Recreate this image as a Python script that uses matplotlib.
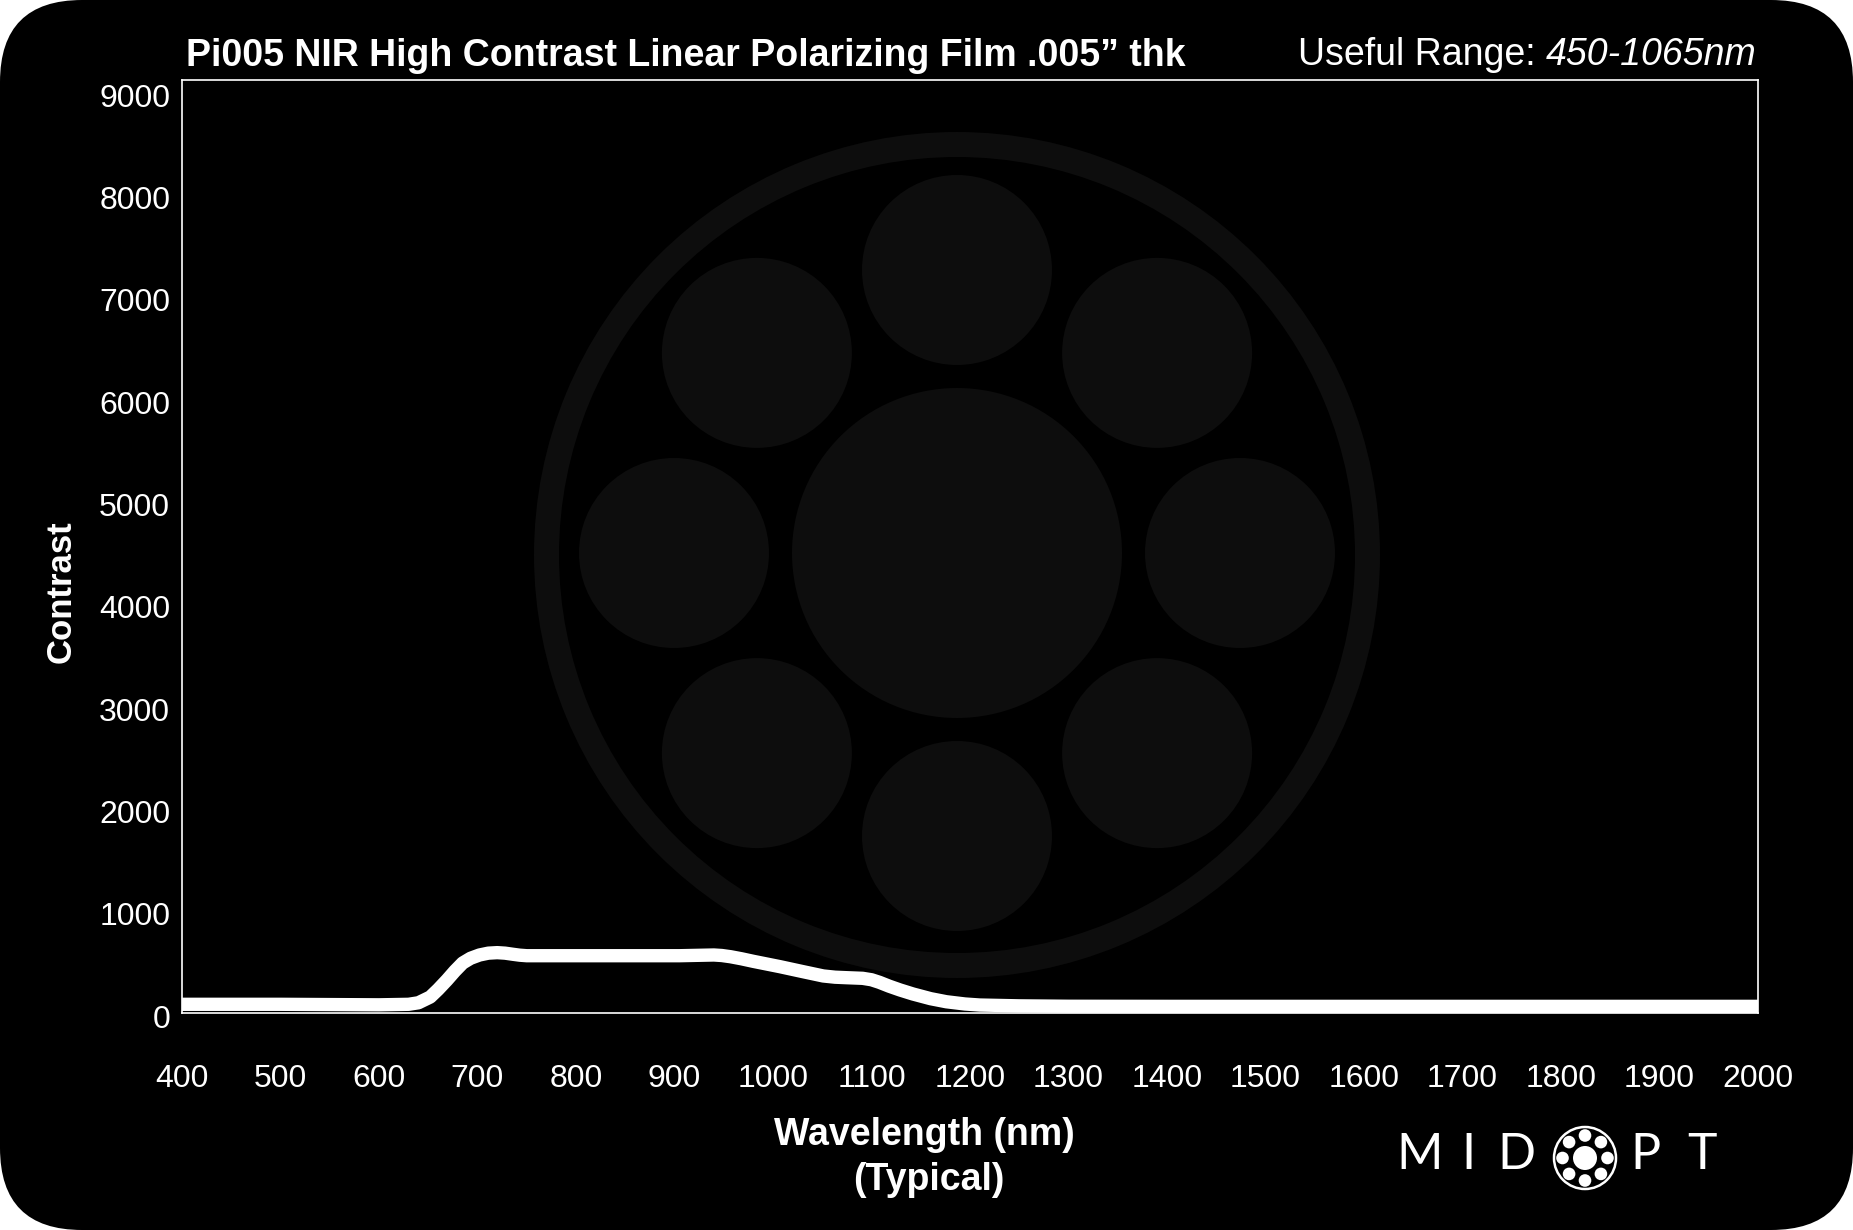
import matplotlib
matplotlib.use("Agg")
import matplotlib.pyplot as plt
import matplotlib.transforms as mtransforms
from matplotlib.patches import FancyBboxPatch, Circle, Wedge
import numpy as np

# ---------------- data ----------------
wavelength = [400, 500, 600, 630, 640, 652, 660, 669, 677, 685, 693, 702, 711, 720,
              728, 736, 743, 750, 800, 850, 905, 940, 948, 957, 968, 980, 1007,
              1030, 1051, 1063, 1075, 1091, 1100, 1108, 1118, 1129, 1142, 1160,
              1176, 1195, 1210, 1250, 1300, 1400, 1600, 1800, 2000]
contrast = [85, 85, 80, 85, 100, 156, 230, 322, 410, 489, 535, 567, 585, 590,
            585, 574, 565, 560, 560, 560, 560, 567, 562, 550, 530, 505, 453,
            405, 362, 350, 345, 339, 325, 300, 262, 225, 186, 140,
            110, 88, 78, 70, 66, 65, 65, 65, 65]
x_ticks = list(range(400, 2001, 100))
y_ticks = list(range(0, 9001, 1000))

title = "Pi005 NIR High Contrast Linear Polarizing Film .005\u201d thk"
range_label = "Useful Range: "
range_value = "450-1065nm"
x_label = "Wavelength (nm)"
x_sub = "(Typical)"
y_label = "Contrast"
logo_letters = ["M", "I", "D", "P", "T"]

W, H = 1853, 1230
FONT = "Liberation Sans"
plt.rcParams['font.family'] = [FONT, 'DejaVu Sans']

fig = plt.figure(figsize=(W / 100, H / 100), dpi=100, facecolor="white")

# background axes in pixel coordinates
bg = fig.add_axes([0, 0, 1, 1], zorder=0)
bg.set_xlim(0, W)
bg.set_ylim(H, 0)
bg.axis("off")
bg.add_patch(FancyBboxPatch((0, 0), W, H, boxstyle="round,pad=0,rounding_size=82",
                            facecolor="black", edgecolor="none"))

# watermark
wm = "#0d0d0d"
cx, cy = 957, 555
bg.add_patch(Wedge((cx, cy), 423, 0, 360, width=25, facecolor=wm, edgecolor="none"))
bg.add_patch(Circle((cx, cy - 2), 165, facecolor=wm, edgecolor="none"))
for k in range(8):
    ang = np.deg2rad(90 - 45 * k)
    bg.add_patch(Circle((cx + 283 * np.cos(ang), cy - 2 - 283 * np.sin(ang)), 95,
                        facecolor=wm, edgecolor="none"))

# logo ring
lx, ly = 1585, 1158
bg.add_patch(Circle((lx, ly), 31, facecolor="none", edgecolor="white", linewidth=1.8))
bg.add_patch(Circle((lx, ly), 12, facecolor="white", edgecolor="none"))
for k in range(8):
    ang = np.deg2rad(90 - 45 * k)
    bg.add_patch(Circle((lx + 22.5 * np.cos(ang), ly - 22.5 * np.sin(ang)), 6.3,
                        facecolor="white", edgecolor="none"))

# main axes
left, right, top, bottom = 182, 1758, 80, 1013
ax = fig.add_axes([left / W, 1 - bottom / H, (right - left) / W, (bottom - top) / H], zorder=1)
ax.set_facecolor("none")
ax.plot(wavelength, contrast, color="white", linewidth=9.6, solid_capstyle="round",
        solid_joinstyle="round", zorder=3)
ax.set_xlim(400, 2000)
ax.set_ylim(0, 9120)
ax.set_xticks(x_ticks)
ax.set_yticks(y_ticks)
ax.tick_params(axis="both", length=0, colors="white", labelsize=23)
ax.tick_params(axis="x", pad=37)
ax.tick_params(axis="y", pad=8.5)
yoff = mtransforms.ScaledTranslation(0, -3 / 100, fig.dpi_scale_trans)
for lab in ax.get_yticklabels():
    lab.set_transform(lab.get_transform() + yoff)
for s in ax.spines.values():
    s.set_color("white")
    s.set_linewidth(1.2)

# texts
fig.text(186 / W, 1 - 56 / H, title, color="white", fontsize=27, fontweight="bold",
         ha="left", va="center")
fig.text(61 / W, 1 - 592 / H, y_label, color="white", fontsize=25, fontweight="bold",
         rotation=90, ha="center", va="center")
fig.text(924 / W, 1 - 1135 / H, x_label, color="white", fontsize=27, fontweight="bold",
         ha="center", va="center")
fig.text(929 / W, 1 - 1180 / H, x_sub, color="white", fontsize=27, fontweight="bold",
         ha="center", va="center")

tv = fig.text(1757 / W, 1 - 55 / H, range_value, color="white", fontsize=27,
              fontstyle="italic", ha="right", va="center")
fig.canvas.draw()
bb = tv.get_window_extent()
fig.text(bb.x0 / W, 1 - 55 / H, range_label, color="white", fontsize=27,
         ha="right", va="center")

# logo letters
for ch, xc in zip(logo_letters, [1420, 1468, 1516, 1645, 1702]):
    fig.text(xc / W, 1 - 1155 / H, ch, color="white", fontsize=36, fontweight="normal",
             family=["Lato", "DejaVu Sans"], ha="center", va="center")

fig.savefig("out.png", dpi=100, facecolor="white")
